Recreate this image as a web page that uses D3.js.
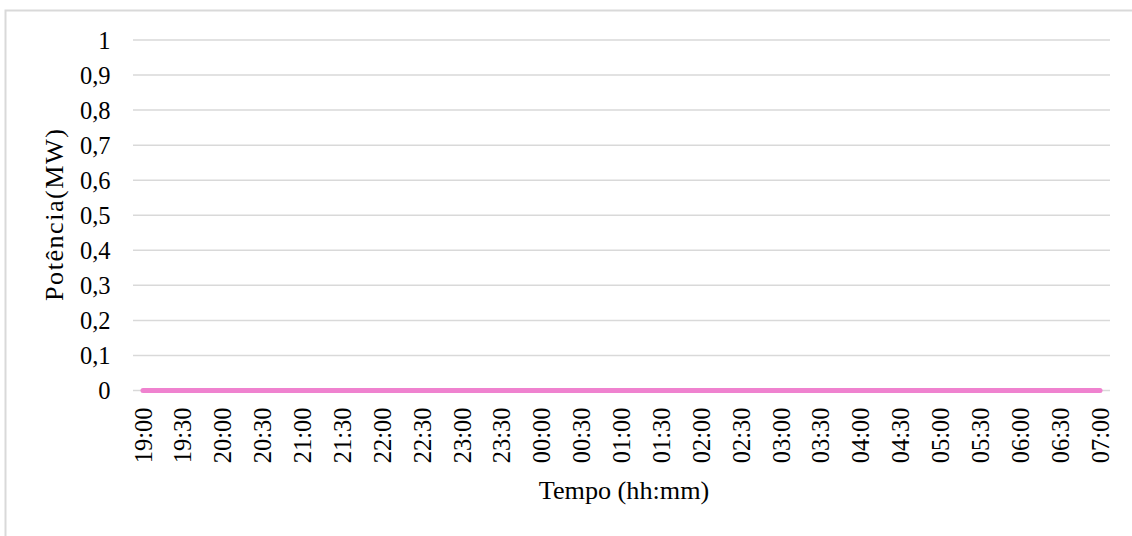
<!DOCTYPE html>
<html>
<head>
<meta charset="utf-8">
<script src="https://cdn.jsdelivr.net/npm/d3@7"></script>
<style>
  body { margin: 0; background: #fff; }
  svg { display: block; }
</style>
</head>
<body>
<script>
// readings every 15 minutes, 19:00 -> 07:00
const times = [
  "19:00","19:15","19:30","19:45","20:00","20:15","20:30","20:45",
  "21:00","21:15","21:30","21:45","22:00","22:15","22:30","22:45",
  "23:00","23:15","23:30","23:45","00:00","00:15","00:30","00:45",
  "01:00","01:15","01:30","01:45","02:00","02:15","02:30","02:45",
  "03:00","03:15","03:30","03:45","04:00","04:15","04:30","04:45",
  "05:00","05:15","05:30","05:45","06:00","06:15","06:30","06:45",
  "07:00"
]
const potencia = [
  0,0,0,0,0,0,0,0, 0,0,0,0,0,0,0,0,
  0,0,0,0,0,0,0,0, 0,0,0,0,0,0,0,0,
  0,0,0,0,0,0,0,0, 0,0,0,0,0,0,0,0,
  0
]
const yTicks = [0, 0.1, 0.2, 0.3, 0.4, 0.5, 0.6, 0.7, 0.8, 0.9, 1]
// only the half-hour labels are shown
const xLabels = times.filter(t => t.endsWith(":00") || t.endsWith(":30"))

const W = 1132, H = 536
const tickFs = 24.5, titleFs = 26.2
const serif = "'Liberation Serif', 'Times New Roman', Times, serif"

const svg = d3.select("body").append("svg")
  .attr("width", W)
  .attr("height", H)
  .attr("font-family", serif)

// chart frame (only top and left edges are visible in the picture)
svg.append("rect")
  .attr("x", 5.5).attr("y", 10.5)
  .attr("width", 1140).attr("height", 540)
  .attr("fill", "none")
  .attr("stroke", "#d9d9d9")
  .attr("stroke-width", 2)

const x = d3.scalePoint()
  .domain(times)
  .range([133, 1110])
  .padding(0.5)

const y = d3.scaleLinear()
  .domain([0, 1])
  .range([390.5, 40])

// gridlines
svg.append("g")
  .selectAll("line")
  .data(yTicks)
  .join("line")
  .attr("x1", 133).attr("x2", 1110)
  .attr("y1", d => y(d)).attr("y2", d => y(d))
  .attr("stroke", "#d9d9d9")
  .attr("stroke-width", 1.5)

// y tick labels
svg.append("g")
  .selectAll("text")
  .data(yTicks)
  .join("text")
  .attr("x", 110.5)
  .attr("y", d => y(d))
  .attr("dy", "0.35em")
  .attr("text-anchor", "end")
  .attr("font-size", tickFs)
  .text(d => String(d).replace(".", ","))

// x tick labels, rotated
svg.append("g")
  .selectAll("text")
  .data(xLabels)
  .join("text")
  .attr("transform", d => `translate(${x(d)},407.5) rotate(-90)`)
  .attr("dy", "0.35em")
  .attr("text-anchor", "end")
  .attr("font-size", tickFs)
  .text(d => d)

// the series
const line = d3.line()
  .x((d, i) => x(times[i]))
  .y(d => y(d))

svg.append("path")
  .datum(potencia)
  .attr("d", line)
  .attr("fill", "none")
  .attr("stroke", "#ef82cf")
  .attr("stroke-width", 5)
  .attr("stroke-linecap", "round")
  .attr("stroke-linejoin", "round")

// axis titles
svg.append("text")
  .attr("x", 624)
  .attr("y", 499)
  .attr("text-anchor", "middle")
  .attr("font-size", titleFs)
  .text("Tempo (hh:mm)")

svg.append("text")
  .attr("transform", "translate(63,215) rotate(-90)")
  .attr("text-anchor", "middle")
  .attr("font-size", titleFs)
  .attr("textLength", 172)
  .attr("lengthAdjust", "spacing")
  .text("Potência(MW)")
</script>
</body>
</html>
